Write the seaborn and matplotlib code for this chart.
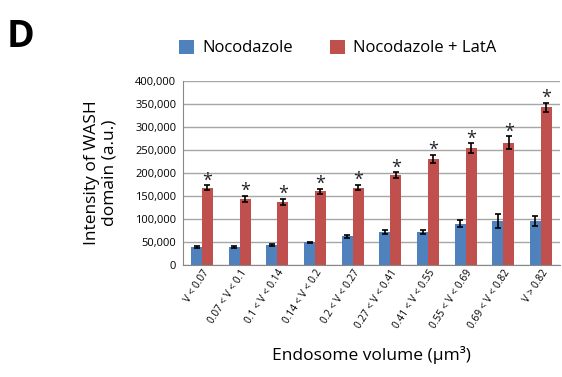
import numpy as np
import pandas as pd
import matplotlib
matplotlib.use("Agg")
import matplotlib.pyplot as plt
import seaborn as sns

categories = ["V < 0.07", "0.07 < V < 0.1", "0.1 < V < 0.14", "0.14 < V < 0.2",
              "0.2 < V < 0.27", "0.27 < V < 0.41", "0.41 < V < 0.55",
              "0.55 < V < 0.69", "0.69 < V < 0.82", "V > 0.82"]
noco = [40000, 39000, 43000, 49000, 62000, 72000, 72000, 90000, 96000, 96000]
noco_err = [2000, 2000, 2000, 2000, 3000, 4000, 5000, 8000, 15000, 11000]
lata = [168000, 143000, 137000, 160000, 168000, 195000, 230000, 253000, 265000, 342000]
lata_err = [5000, 7000, 6000, 6000, 6000, 6000, 9000, 11000, 14000, 10000]
series = ["Nocodazole", "Nocodazole + LatA"]

df = pd.DataFrame({
    "Volume": categories * 2,
    "Intensity": noco + lata,
    "Treatment": [series[0]] * len(categories) + [series[1]] * len(categories),
})

sns.set_style("white", {"text.color": "black", "axes.labelcolor": "black",
                        "xtick.color": "black", "ytick.color": "black"})
plt.rcParams['font.family'] = ['Open Sans', 'DejaVu Sans']

fig = plt.figure(figsize=(5.62, 3.77), dpi=100)
ax = fig.add_axes([0.326, 0.297, 0.670, 0.489])

sns.barplot(data=df, x="Volume", y="Intensity", hue="Treatment",
            palette=["#4F81BD", "#C0504D"], saturation=1, width=0.58, ax=ax,
            edgecolor="none", legend=True)

for cont, errs, star in zip(ax.containers, [noco_err, lata_err], [False, True]):
    for bar, e in zip(cont, errs):
        cx = bar.get_x() + bar.get_width() / 2
        h = bar.get_height()
        ax.errorbar(cx, h, yerr=e, fmt="none", ecolor="black",
                    elinewidth=1.2, capsize=2.5, capthick=1.2, zorder=4)
        if star:
            ax.text(cx, h + e - 9000, "*", ha="center", va="bottom",
                    fontsize=13, color="#222222")

ax.set_ylim(0, 400000)
ax.set_yticks(np.arange(0, 400001, 50000))
ax.set_yticklabels([f"{v:,}" for v in range(0, 400001, 50000)], fontsize=8)
ax.set_xlim(-0.5, len(categories) - 0.5)
ax.yaxis.grid(True, color="#A6A6A6", linewidth=1.0)
ax.set_axisbelow(True)
for s in ["top", "right"]:
    ax.spines[s].set_visible(False)
ax.spines["left"].set_color("#888888")
ax.spines["bottom"].set_color("#888888")
ax.tick_params(axis="y", length=3, color="#888888", labelcolor="black", pad=2)
ax.tick_params(axis="x", length=0, labelcolor="black", pad=2)
ax.set_xticks(np.arange(-0.5, len(categories), 1.0), minor=True)
ax.tick_params(axis="x", which="minor", length=3, color="#888888")
ax.set_xticklabels(categories, rotation=57, ha="right", rotation_mode="anchor",
                   fontsize=7.3)

ax.set_xlabel("Endosome volume (µm³)", fontsize=12.5, labelpad=11, color="black")
ax.set_ylabel("Intensity of WASH\ndomain (a.u.)", fontsize=12.5, labelpad=13,
              linespacing=1.1, color="black")

leg = ax.legend(loc="lower center", bbox_to_anchor=(0.41, 1.05), ncol=2,
                frameon=False, fontsize=12, handlelength=0.9, handleheight=0.9,
                columnspacing=2.2, handletextpad=0.5, labelcolor="black")

fig.text(0.012, 0.875, "D", fontsize=27, fontweight="bold", color="black")

fig.savefig("out.png", dpi=100)
